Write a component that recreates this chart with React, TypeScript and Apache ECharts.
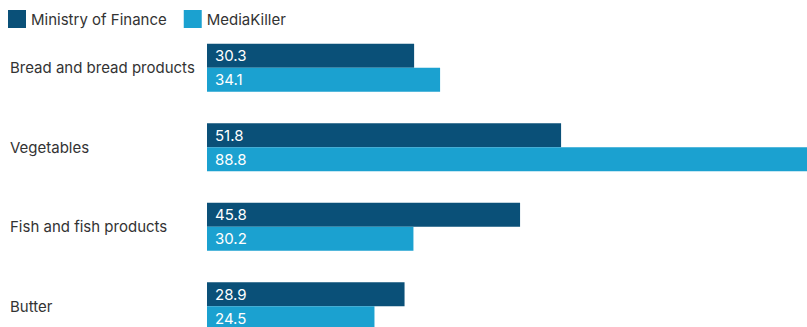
import React, { useEffect, useRef } from "react";
import * as echarts from "echarts";

const categories = ["Bread and bread products", "Vegetables", "Fish and fish products", "Butter"];
const seriesNames = ["Ministry of Finance", "MediaKiller"];
const ministryValues = [30.3, 51.8, 45.8, 28.9];
const mediaKillerValues = [34.1, 88.8, 30.2, 24.5];
const colors = ["#0a5078", "#1ba1d0"];
const FONT = "Inter";

export default function App() {
  const ref = useRef<HTMLDivElement>(null);
  useEffect(() => {
    const chart = echarts.init(ref.current!, null, { renderer: "svg" });
    const labelCfg = {
      show: true,
      position: "insideLeft",
      distance: 8,
      color: "#ffffff",
      fontSize: 15,
      fontFamily: FONT,
    };
    chart.setOption({
      animation: false,
      textStyle: { fontFamily: FONT },
      legend: {
        left: 3,
        top: 5,
        itemWidth: 18,
        itemHeight: 18,
        itemGap: 17,
        icon: "rect",
        textStyle: { fontSize: 15, color: "#333", fontFamily: FONT },
        data: seriesNames,
      },
      grid: { left: 207, right: 6, top: 28, height: 318, containLabel: false },
      xAxis: {
        type: "value",
        min: 0,
        max: 88.8,
        show: false,
      },
      yAxis: {
        type: "category",
        inverse: true,
        data: categories,
        axisLine: { show: false },
        axisTick: { show: false },
        splitLine: { show: false },
        axisLabel: {
          align: "left",
          margin: 197,
          fontSize: 15,
          color: "#333",
          fontFamily: FONT,
        },
      },
      series: [
        {
          name: seriesNames[0],
          type: "bar",
          data: ministryValues,
          barWidth: 24,
          barGap: "0%",
          itemStyle: { color: colors[0] },
          label: labelCfg,
        },
        {
          name: seriesNames[1],
          type: "bar",
          data: mediaKillerValues,
          barWidth: 24,
          barGap: "0%",
          itemStyle: { color: colors[1] },
          label: labelCfg,
        },
      ],
    });
    return () => chart.dispose();
  }, []);
  return (
    <div
      ref={ref}
      style={{ position: "absolute", left: 0, top: 0, width: 820, height: 360 }}
    />
  );
}
